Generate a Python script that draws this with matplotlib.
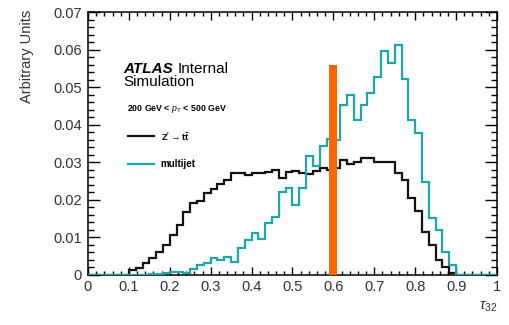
import numpy as np
import matplotlib
matplotlib.use("Agg")
import matplotlib.pyplot as plt
from matplotlib.ticker import MultipleLocator, FixedLocator

plt.rcParams['font.family'] = ['Liberation Sans', 'DejaVu Sans']
plt.rcParams['mathtext.fontset'] = 'custom'
plt.rcParams['mathtext.rm'] = 'Liberation Sans'
plt.rcParams['mathtext.it'] = 'Liberation Sans:italic'
plt.rcParams['mathtext.bf'] = 'Liberation Sans:bold'

# tau_32 histograms, 60 bins on [0, 1], normalised to unit area (bin contents)
n_bins = 60
zprime_ttbar = [
    0, 0, 0, 0, 0, 0,
    0.0012, 0.0018, 0.0031, 0.0044, 0.0062, 0.0080, 0.0106, 0.0133, 0.0167, 0.0191,
    0.0197, 0.0219, 0.0228, 0.0242, 0.0253, 0.0272, 0.0272, 0.0265, 0.0271, 0.0271,
    0.0275, 0.0279, 0.0259, 0.0273, 0.0278, 0.0271, 0.0270, 0.0278, 0.0284, 0.0280,
    0.0284, 0.0306, 0.0296, 0.0302, 0.0312, 0.0312, 0.0300, 0.0300, 0.0300, 0.0272,
    0.0253, 0.0204, 0.0169, 0.0115, 0.0080, 0.0040, 0.0020, 0.0005,
    0, 0, 0, 0, 0, 0,
]
multijet = [
    0, 0, 0, 0, 0, 0, 0, 0, 0,
    0.0003, 0.0003, 0.0004, 0.0009, 0.0009, 0.0004, 0.0015, 0.0027, 0.0033, 0.0044,
    0.0040, 0.0049, 0.0035, 0.0071, 0.0093, 0.0113, 0.0095, 0.0138, 0.0155, 0.0222,
    0.0231, 0.0186, 0.0231, 0.0317, 0.0290, 0.0342, 0.0362, 0.0360, 0.0452, 0.0479,
    0.0413, 0.0452, 0.0484, 0.0528, 0.0597, 0.0563, 0.0612, 0.0521, 0.0413, 0.0377,
    0.0248, 0.0151, 0.0120, 0.0062, 0.0027,
    0, 0, 0, 0, 0, 0,
]
cut_value = 0.6
cut_height = 0.056

x_ticks = [0, 0.1, 0.2, 0.3, 0.4, 0.5, 0.6, 0.7, 0.8, 0.9, 1]
x_tick_labels = ['0', '0.1', '0.2', '0.3', '0.4', '0.5', '0.6', '0.7', '0.8', '0.9', '1']
y_ticks = [0, 0.01, 0.02, 0.03, 0.04, 0.05, 0.06, 0.07]
y_tick_labels = ['0', '0.01', '0.02', '0.03', '0.04', '0.05', '0.06', '0.07']

edges = np.linspace(0, 1, n_bins + 1)
black = '#111111'
teal = '#1fa6a6'
orange = '#ff6600'
tick_text = '#303040'

fig = plt.figure(figsize=(5.1, 3.25), dpi=100)
ax = fig.add_axes([0.1725, 0.154, 0.802, 0.809])

ax.stairs(zprime_ttbar, edges, color=black, lw=1.6, zorder=3)
ax.stairs(multijet, edges, color=teal, lw=1.6, zorder=4)
ax.bar(cut_value, cut_height, width=0.02, color=orange, zorder=6, clip_on=False)

ax.set_xlim(0, 1)
ax.set_ylim(0, 0.07)

ax.xaxis.set_major_locator(FixedLocator(x_ticks))
ax.set_xticklabels(x_tick_labels)
ax.yaxis.set_major_locator(FixedLocator(y_ticks))
ax.set_yticklabels(y_tick_labels)
ax.xaxis.set_minor_locator(MultipleLocator(0.02))
ax.yaxis.set_minor_locator(MultipleLocator(0.002))

ax.tick_params(axis='both', which='both', direction='in', top=True, right=True,
               width=1.0, color='black')
ax.tick_params(axis='x', which='major', length=5.7, pad=3.5)
ax.tick_params(axis='x', which='minor', length=2.9)
ax.tick_params(axis='y', which='major', length=8.6, pad=4.3)
ax.tick_params(axis='y', which='minor', length=4.3)
ax.tick_params(axis='both', which='major', labelsize=10.5, labelcolor=tick_text)
for s in ax.spines.values():
    s.set_linewidth(1.1)

ax.set_ylabel('Arbitrary Units', fontsize=10.5, color=tick_text, loc='top')
ax.yaxis.set_label_coords(-0.132, 1.008)
fig.text(0.957, 0.035, r'$\tau_{32}$', fontsize=10.5, color=tick_text,
         ha='center', va='bottom')

# ATLAS label
t_atlas = ax.text(0.086, 0.768, 'ATLAS', transform=ax.transAxes, fontsize=11,
                  fontweight='bold', fontstyle='italic', color='black')
fig.canvas.draw()
bb = t_atlas.get_window_extent(renderer=fig.canvas.get_renderer())
x_int = ax.transAxes.inverted().transform((bb.x1, bb.y0))[0]
ax.text(x_int + 0.012, 0.768, 'Internal', transform=ax.transAxes, fontsize=11,
        color='black')
ax.text(0.086, 0.718, 'Simulation', transform=ax.transAxes, fontsize=11,
        color='black')
ax.text(0.095, 0.631, r'200 GeV < $p_{\mathrm{T}}$ < 500 GeV', transform=ax.transAxes,
        fontsize=6.3, fontweight='bold', va='center', color='black')

# legend entries
ax.plot([0.099, 0.161], [0.527, 0.527], transform=ax.transAxes, color=black, lw=1.6)
ax.text(0.178, 0.527, r"$\mathbf{Z' \rightarrow t\bar{t}}$", transform=ax.transAxes,
        fontsize=6.8, va='center', color='black')
ax.plot([0.099, 0.161], [0.422, 0.422], transform=ax.transAxes, color=teal, lw=1.6)
ax.text(0.178, 0.422, 'multijet', transform=ax.transAxes, fontsize=7,
        fontweight='bold', va='center', color='black')

fig.savefig('out.png', dpi=100)
